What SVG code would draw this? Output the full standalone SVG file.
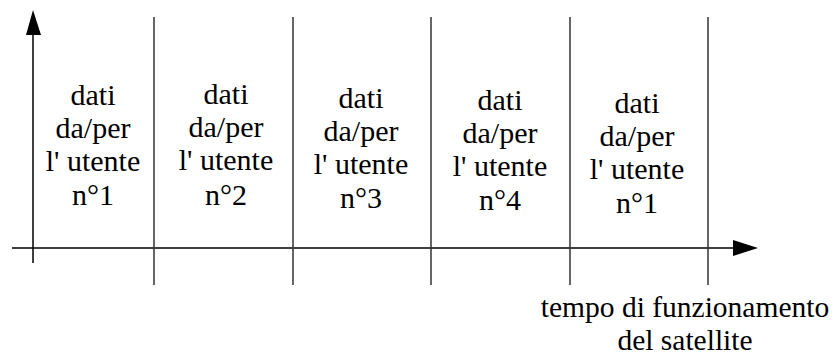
<svg xmlns="http://www.w3.org/2000/svg" width="838" height="358" viewBox="0 0 838 358">
<style>
.ax{stroke:#000;stroke-width:1.5;fill:none}
.dv{stroke:#333;stroke-width:1.5;fill:none}
</style>
<g id="connectors">
<line class="ax" x1="33" y1="263" x2="33" y2="35"/>
<path d="M26,35 L33,10 L41,35 Z" fill="#000"/>
<line class="ax" x1="12" y1="248" x2="734" y2="248"/>
<path d="M733,240 L758,248 L733,256 Z" fill="#000"/>
<line class="dv" x1="154" y1="17" x2="154" y2="285"/>
<line class="dv" x1="293" y1="17" x2="293" y2="285"/>
<line class="dv" x1="431" y1="17" x2="431" y2="285"/>
<line class="dv" x1="570" y1="17" x2="570" y2="285"/>
<line class="dv" x1="708" y1="17" x2="708" y2="285"/>
</g>
<g font-family="Liberation Serif, Times New Roman, serif" font-size="30" text-anchor="middle" fill="#000">
<g id="slot1">
<text x="93" y="105">dati</text>
<text x="93" y="138">da/per</text>
<text x="93" y="171">l' utente</text>
<text x="93" y="205">n°1</text>
</g>
<g id="slot2">
<text x="226" y="104">dati</text>
<text x="226" y="137">da/per</text>
<text x="226" y="170">l' utente</text>
<text x="226" y="205">n°2</text>
</g>
<g id="slot3">
<text x="361" y="108">dati</text>
<text x="361" y="141">da/per</text>
<text x="361" y="174">l' utente</text>
<text x="361" y="208">n°3</text>
</g>
<g id="slot4">
<text x="500" y="110">dati</text>
<text x="500" y="143">da/per</text>
<text x="500" y="176">l' utente</text>
<text x="500" y="210">n°4</text>
</g>
<g id="slot5">
<text x="637" y="113">dati</text>
<text x="637" y="146">da/per</text>
<text x="637" y="179">l' utente</text>
<text x="637" y="213">n°1</text>
</g>
<g id="axis-label" font-size="29.5">
<text x="685" y="317">tempo di funzionamento</text>
<text x="685" y="350">del satellite</text>
</g>
</g>
</svg>
